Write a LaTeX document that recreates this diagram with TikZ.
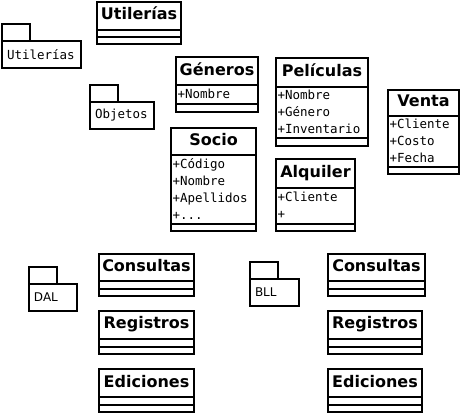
\documentclass[tikz,border=0pt]{standalone}
\usepackage{fontspec}
\setmainfont{DejaVu Sans}
\setmonofont{DejaVu Sans Mono}
\usetikzlibrary{positioning}

\begin{document}
\begin{tikzpicture}[
    x=1pt, y=-1pt,
    box/.style={draw, line width=2pt, outer sep=0pt, inner sep=0pt, anchor=north west},
    title/.style={box, minimum width=#1, minimum height=28pt, text height=11.8pt, text depth=3.6pt, font=\fontsize{16}{19}\selectfont\bfseries},
    part/.style={box, minimum width=#1},
    attrs/.style={box, inner xsep=1.5pt, text width=#1, align=left, font=\ttfamily\fontsize{12.5}{17}\selectfont},
    pkgbody/.style={box, inner xsep=5pt, text width=#1, minimum height=27pt, align=left},
    pkgtab/.style={draw, line width=2pt, outer sep=0pt, inner sep=0pt, anchor=south west, minimum width=28pt, minimum height=17pt}
]
    \useasboundingbox (0,0) rectangle (461,415);

    \node[title=84pt, minimum height=27.5pt] (utilT) at (97,2) {Utilerías};
    \node[part=84pt, minimum height=7pt] (utilA) at (utilT.south west) {};
    \node[part=84pt, minimum height=7pt] (utilO) at (utilA.south west) {};

    \node[pkgbody=69pt, font=\ttfamily\fontsize{12.5}{14}\selectfont] (pkgUtil) at (2,41) {Utilerías};
    \node[pkgtab] (pkgUtilTab) at (pkgUtil.north west) {};

    \node[pkgbody=54pt, font=\ttfamily\fontsize{12.5}{14}\selectfont] (pkgObj) at (90,102) {Objetos};
    \node[pkgtab] (pkgObjTab) at (pkgObj.north west) {};

    \node[title=82pt] (genT) at (176,57) {Géneros};
    \node[attrs=79pt, minimum height=18.5pt] (genA) at (genT.south west) {+Nombre};
    \node[part=82pt, minimum height=8.5pt] (genO) at (genA.south west) {};

    \node[title=92pt, minimum height=28.5pt] (pelT) at (276,58) {Películas};
    \node[attrs=89pt, minimum height=51pt] (pelA) at (pelT.south west) {+Nombre\\+Género\\+Inventario};
    \node[part=92pt, minimum height=8pt] (pelO) at (pelA.south west) {};

    \node[title=71pt, minimum height=25.5pt] (venT) at (388,90) {Venta};
    \node[attrs=68pt, minimum height=51pt] (venA) at (venT.south west) {+Cliente\\+Costo\\+Fecha};
    \node[part=71pt, minimum height=7pt] (venO) at (venA.south west) {};

    \node[title=85pt, minimum height=26.5pt] (socT) at (171,128) {Socio};
    \node[attrs=82pt, minimum height=69pt] (socA) at (socT.south west) {+Código\\+Nombre\\+Apellidos\\+...};
    \node[part=85pt, minimum height=7pt] (socO) at (socA.south west) {};

    \node[title=79pt, minimum height=28.5pt] (alqT) at (276,159) {Alquiler};
    \node[attrs=76pt, minimum height=36pt] (alqA) at (alqT.south west) {+Cliente\\+};
    \node[part=79pt, minimum height=7pt] (alqO) at (alqA.south west) {};

    \node[pkgbody=38pt, font=\fontsize{12}{14}\selectfont] (pkgDal) at (29,284) {DAL};
    \node[pkgtab] (pkgDalTab) at (pkgDal.north west) {};

    \node[title=95pt, minimum height=27pt] (conL) at (99,254) {Consultas};
    \node[part=95pt, minimum height=7.5pt] (conLA) at (conL.south west) {};
    \node[part=95pt, minimum height=7pt] (conLO) at (conLA.south west) {};

    \node[title=95pt, minimum height=27.5pt] (regL) at (99,311) {Registros};
    \node[part=95pt, minimum height=8pt] (regLA) at (regL.south west) {};
    \node[part=95pt, minimum height=7pt] (regLO) at (regLA.south west) {};

    \node[title=95pt] (ediL) at (99,369) {Ediciones};
    \node[part=95pt, minimum height=7.5pt] (ediLA) at (ediL.south west) {};
    \node[part=95pt, minimum height=7.5pt] (ediLO) at (ediLA.south west) {};

    \node[pkgbody=39pt, font=\fontsize{12}{14}\selectfont] (pkgBll) at (250,279) {BLL};
    \node[pkgtab] (pkgBllTab) at (pkgBll.north west) {};

    \node[title=97pt, minimum height=27pt] (conR) at (328,254) {Consultas};
    \node[part=97pt, minimum height=7.5pt] (conRA) at (conR.south west) {};
    \node[part=97pt, minimum height=7pt] (conRO) at (conRA.south west) {};

    \node[title=94pt, minimum height=27.5pt] (regR) at (328,311) {Registros};
    \node[part=94pt, minimum height=8pt] (regRA) at (regR.south west) {};
    \node[part=94pt, minimum height=7pt] (regRO) at (regRA.south west) {};

    \node[title=94pt] (ediR) at (328,369) {Ediciones};
    \node[part=94pt, minimum height=7.5pt] (ediRA) at (ediR.south west) {};
    \node[part=94pt, minimum height=7.5pt] (ediRO) at (ediRA.south west) {};
\end{tikzpicture}
\end{document}
